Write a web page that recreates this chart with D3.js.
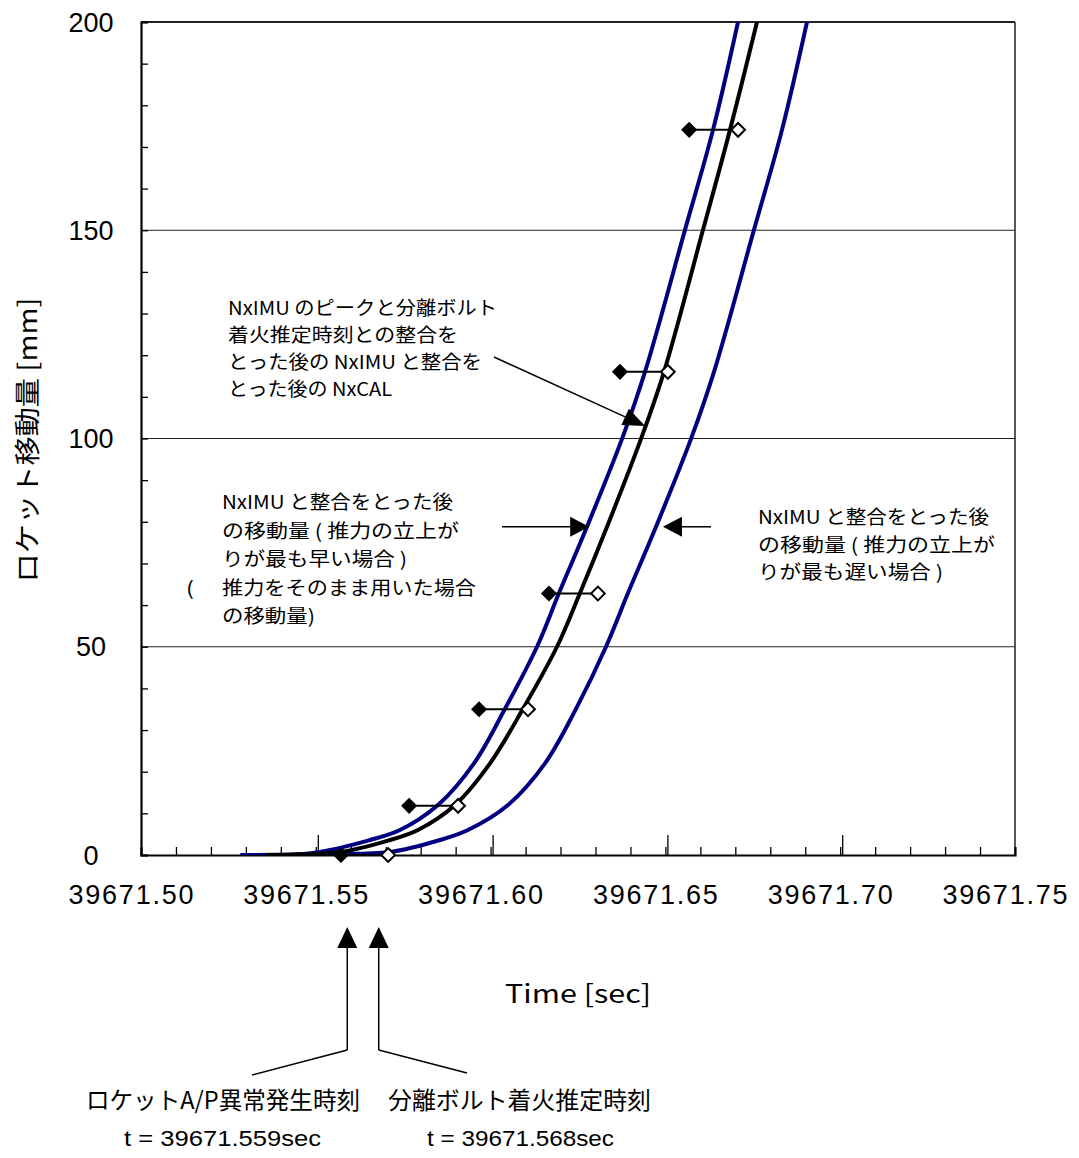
<!DOCTYPE html>
<html>
<head>
<meta charset="utf-8">
<script src="https://cdn.jsdelivr.net/npm/d3@7"></script>
<style>
  html, body { margin: 0; padding: 0; background: #fff; }
  svg { display: block; }
</style>
</head>
<body>
<svg id="chart" width="1079" height="1158"></svg>
<script>
// Time axis ticks and labels
const timeTicks = [39671.50, 39671.55, 39671.60, 39671.65, 39671.70, 39671.75];
const timeTickLabels = ["39671.50", "39671.55", "39671.60", "39671.65", "39671.70", "39671.75"];
const moveTicks = [0, 50, 100, 150, 200];
const moveTickLabels = ["0", "50", "100", "150", "200"];

// Movement curve, earliest thrust rise (blue, left)
const earlyTime = [39671.52889, 39671.54920, 39671.56550, 39671.57408, 39671.58495, 39671.59525, 39671.60412,
                   39671.61327, 39671.61957, 39671.62757, 39671.63759, 39671.64416, 39671.65561, 39671.66362, 39671.67077];
const earlyMove = [0, 0.5, 3.6, 6.0, 12.0, 22.0, 35.1, 50.0, 62.9, 78.8, 99.9, 116.0, 150.1, 174.1, 200];

// NxCAL after alignment (black, middle)
const calTime = [39671.53604, 39671.55692, 39671.57122, 39671.57923, 39671.58982, 39671.59983, 39671.60927,
                 39671.61899, 39671.62557, 39671.63330, 39671.64302, 39671.64960, 39671.66076, 39671.66848, 39671.67620];
const calMove = [0, 0.7, 3.6, 6.0, 12.0, 22.0, 35.1, 50.0, 62.9, 78.8, 99.9, 116.0, 150.1, 174.1, 200];

// Movement curve, latest thrust rise (blue, right)
const lateTime = [39671.52889, 39671.55406, 39671.57122, 39671.58553, 39671.59354, 39671.60498, 39671.61556, 39671.62443,
                  39671.63301, 39671.63930, 39671.64731, 39671.65732, 39671.66390, 39671.67534, 39671.68335, 39671.69050];
const lateMove = [0, 0.24, 0.72, 3.6, 6.0, 12.0, 22.0, 35.1, 50.0, 62.9, 78.8, 99.9, 116.0, 150.1, 174.1, 200];

// NxIMU peak points (filled) and bolt-firing aligned points (open)
const peakTime = [39671.5572, 39671.5767, 39671.5967, 39671.6167, 39671.6370, 39671.6568];
const boltTime = [39671.5707, 39671.5907, 39671.6107, 39671.6307, 39671.6507, 39671.6708];
const markMove = [0, 11.8, 35.0, 62.8, 116.0, 174.1];

// Event times marked under the axis
const eventTime = [39671.559, 39671.568];

// ---------------- layout ----------------
const plot = { left: 141, right: 1015, top: 22, bottom: 855 };
const svg = d3.select("#chart");
const x = d3.scaleLinear().domain([39671.50, 39671.75]).range([plot.left, plot.right]);
const y = d3.scaleLinear().domain([0, 200]).range([plot.bottom, plot.top]);

const JP = "'Noto Sans CJK JP', 'Noto Sans', sans-serif";
const LAT = "'Liberation Sans', Arial, sans-serif";
const NAVY = "#000080";

svg.append("defs").append("clipPath").attr("id", "plotClip")
  .append("rect").attr("x", plot.left).attr("y", plot.top)
  .attr("width", plot.right - plot.left).attr("height", plot.bottom - plot.top);

// gridlines
svg.append("g").selectAll("line").data(moveTicks.filter(d => d > 0)).join("line")
  .attr("x1", plot.left).attr("x2", plot.right)
  .attr("y1", d => y(d)).attr("y2", d => y(d))
  .attr("stroke", "#222").attr("stroke-width", d => d === 200 ? 2 : 1.2);

// right border
svg.append("line").attr("x1", plot.right).attr("x2", plot.right)
  .attr("y1", plot.top).attr("y2", plot.bottom).attr("stroke", "#222").attr("stroke-width", 1.5);

// y axis (ticks inward)
const yAxis = d3.axisRight(y).tickValues(d3.range(0, 201, 10)).tickSize(7).tickFormat("");
const gy = svg.append("g").attr("transform", `translate(${plot.left},0)`).call(yAxis);
gy.select(".domain").attr("stroke", "#000").attr("stroke-width", 2.2);
gy.selectAll(".tick line").attr("stroke", "#000").attr("stroke-width", 1.3);

// x axis (ticks inward): minor every 0.01, major every 0.05
const minorT = d3.range(1, 25).map(i => 39671.50 + i * 0.01);
const xMinor = d3.axisTop(x).tickValues(minorT).tickSize(8).tickFormat("");
const gx = svg.append("g").attr("transform", `translate(0,${plot.bottom})`).call(xMinor);
gx.select(".domain").attr("stroke", "#000").attr("stroke-width", 2.2);
gx.selectAll(".tick line").attr("stroke", "#000").attr("stroke-width", 1.3);
const xMajor = d3.axisTop(x).tickValues(timeTicks.slice(1, 5)).tickSize(20).tickFormat("");
const gx2 = svg.append("g").attr("transform", `translate(2,${plot.bottom})`).call(xMajor);
gx2.select(".domain").remove();
gx2.selectAll(".tick line").attr("stroke", "#000").attr("stroke-width", 1.3);

// tick labels
svg.append("g").selectAll("text").data(timeTicks).join("text")
  .attr("x", d => x(d) - 10).attr("y", 904)
  .attr("text-anchor", "middle")
  .attr("font-family", LAT).attr("font-size", 27)
  .attr("textLength", 125).attr("lengthAdjust", "spacing")
  .text((d, i) => timeTickLabels[i]);

svg.append("g").selectAll("text").data(moveTicks).join("text")
  .attr("x", 91).attr("y", d => y(d))
  .attr("dy", "0.36em")
  .attr("text-anchor", "middle")
  .attr("font-family", LAT).attr("font-size", 27)
  .text((d, i) => moveTickLabels[i]);

// axis titles
svg.append("text")
  .attr("transform", "translate(25,440) rotate(-90)")
  .attr("text-anchor", "middle").attr("dominant-baseline", "central")
  .attr("font-family", JP).attr("font-size", 26)
  .attr("textLength", 285).attr("lengthAdjust", "spacingAndGlyphs")
  .text("ロケット移動量 [mm]");

svg.append("text")
  .attr("x", 505).attr("y", 992).attr("dominant-baseline", "central")
  .attr("font-family", JP).attr("font-size", 25)
  .attr("textLength", 146).attr("lengthAdjust", "spacingAndGlyphs")
  .text("Time [sec]");

// curves
const curves = [
  { t: lateTime, v: lateMove, color: NAVY },
  { t: earlyTime, v: earlyMove, color: NAVY },
  { t: calTime, v: calMove, color: "#000" }
];
const line = d3.line().x(d => x(d[0])).y(d => y(d[1])).curve(d3.curveCatmullRom.alpha(0.5));
const gc = svg.append("g").attr("clip-path", "url(#plotClip)");
curves.forEach(c => {
  gc.append("path")
    .datum(c.t.map((t, i) => [t, c.v[i]]))
    .attr("d", line)
    .attr("fill", "none").attr("stroke", c.color)
    .attr("stroke-width", 4).attr("stroke-linejoin", "round").attr("stroke-linecap", "round");
});

// marker pairs
const gm = svg.append("g");
gm.selectAll("line").data(markMove).join("line")
  .attr("x1", (d, i) => x(peakTime[i])).attr("x2", (d, i) => x(boltTime[i]))
  .attr("y1", d => y(d)).attr("y2", d => y(d))
  .attr("stroke", "#000").attr("stroke-width", 2);
const diamond = d3.symbol().type(d3.symbolSquare);
gm.selectAll("path.peak").data(markMove).join("path").attr("class", "peak")
  .attr("transform", (d, i) => `translate(${x(peakTime[i])},${y(d)}) rotate(45)`)
  .attr("d", diamond.size(130)()).attr("fill", "#000");
gm.selectAll("path.bolt").data(markMove).join("path").attr("class", "bolt")
  .attr("transform", (d, i) => `translate(${x(boltTime[i])},${y(d)}) rotate(45)`)
  .attr("d", diamond.size(95)()).attr("fill", "#fff").attr("stroke", "#000").attr("stroke-width", 2);

// arrow helper: line from (x1,y1) to tip (x2,y2) with a filled head
function arrow(g, x1, y1, x2, y2, headLen, headHalf) {
  const a = Math.atan2(y2 - y1, x2 - x1);
  const bx = x2 - headLen * Math.cos(a), by = y2 - headLen * Math.sin(a);
  g.append("line").attr("x1", x1).attr("y1", y1).attr("x2", bx).attr("y2", by)
    .attr("stroke", "#000").attr("stroke-width", 1.5);
  const px = -Math.sin(a) * headHalf, py = Math.cos(a) * headHalf;
  g.append("path")
    .attr("d", `M${x2},${y2}L${bx + px},${by + py}L${bx - px},${by - py}Z`)
    .attr("fill", "#000");
}

const ga = svg.append("g");
// NxCAL label pointer
arrow(ga, 494, 357, x(39671.6442), y(103), 22, 9);
// early / late curve pointers
arrow(ga, 502, y(78.8), x(39671.6282), y(78.8), 19, 10);
arrow(ga, 711, y(78.8), x(39671.6493), y(78.8), 19, 10);

// event arrows below the axis
const evSlant = [[252, 1075], [467, 1073]];
eventTime.forEach((t, i) => {
  const ex = x(t);
  ga.append("line").attr("x1", ex).attr("x2", ex).attr("y1", 1050).attr("y2", 946)
    .attr("stroke", "#000").attr("stroke-width", 1.5);
  ga.append("path").attr("d", `M${ex},927L${ex - 10},948L${ex + 10},948Z`).attr("fill", "#000");
  ga.append("line").attr("x1", ex).attr("y1", 1050)
    .attr("x2", evSlant[i][0]).attr("y2", evSlant[i][1])
    .attr("stroke", "#000").attr("stroke-width", 1.5);
});

// annotation text
function block(lines, size, font) {
  lines.forEach(l => {
    svg.append("text")
      .attr("x", l[0]).attr("y", l[1]).attr("dominant-baseline", "central")
      .attr("font-family", font).attr("font-size", size)
      .attr("textLength", l[3]).attr("lengthAdjust", "spacingAndGlyphs")
      .text(l[2]);
  });
}
block([
  [228, 306, "NxIMU のピークと分離ボルト", 269],
  [228, 333, "着火推定時刻との整合を", 230],
  [228, 360, "とった後の NxIMU と整合を", 254],
  [228, 387, "とった後の NxCAL", 164]
], 19, JP);
block([
  [222, 500, "NxIMU と整合をとった後", 231],
  [222, 529, "の移動量 ( 推力の立上が", 237],
  [222, 557, "りが最も早い場合 )", 185],
  [186, 586, "(", 8],
  [222, 586, "推力をそのまま用いた場合", 254],
  [222, 614, "の移動量)", 93]
], 19, JP);
block([
  [758, 515, "NxIMU と整合をとった後", 231],
  [758, 543, "の移動量 ( 推力の立上が", 237],
  [758, 570, "りが最も遅い場合 )", 185]
], 19, JP);
block([
  [86, 1098, "ロケットA/P異常発生時刻", 274],
  [388, 1098, "分離ボルト着火推定時刻", 263]
], 24, JP);
block([
  [124, 1138, "t = 39671.559sec", 197],
  [427, 1138, "t = 39671.568sec", 187]
], 22, LAT);
</script>
</body>
</html>
